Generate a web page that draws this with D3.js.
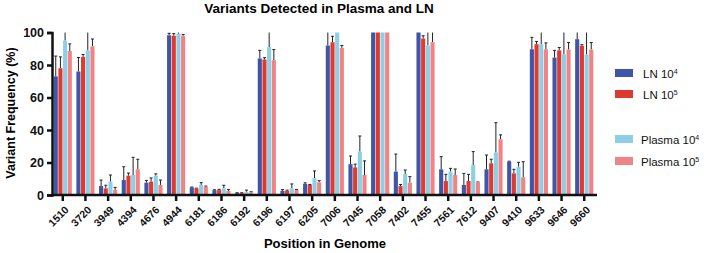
<!DOCTYPE html>
<html>
<head>
<meta charset="utf-8">
<script src="https://cdn.jsdelivr.net/npm/d3@7"></script>
<style>
  body { margin: 0; background: #fff; }
  svg text { font-family: "Liberation Sans", Arial, sans-serif; }
</style>
</head>
<body>
<div id="chart"></div>
<script>
// data
const positions = ["1510","3720","3949","4394","4676","4944","6181","6186","6192","6196","6197","6205",
  "7006","7045","7058","7402","7455","7561","7612","9407","9410","9633","9646","9660"];
const seriesKeys = ["LN4", "LN5", "PL4", "PL5"];

const ln4 = [73, 76, 5.5, 9.2, 7.6, 98.3, 4.7, 3, 1.2, 84, 2.6, 6.8, 92, 19, 100, 14.4, 100, 15.8, 6.2, 15.8, 20.5, 89.7, 84.6, 95.9];
const ln5 = [78, 85, 4.1, 11.9, 8.2, 98, 4.1, 3, 1.2, 83.4, 2.6, 6.2, 94, 17, 100, 5.5, 96.3, 8.6, 8.6, 19.5, 13.3, 92.8, 89, 91.8];
const pl4 = [95, 89, 8.2, 12.3, 11.9, 99.2, 6.2, 4.1, 2, 91, 4.1, 10.3, 100, 26.7, 100, 12.9, 92, 14.4, 18.5, 26.2, 17.4, 92.8, 86.6, 86.5];
const pl5 = [88.6, 91.5, 3, 15.8, 6.2, 98, 5.1, 2.5, 1.5, 83, 3, 7.8, 90.5, 12.3, 100, 7.6, 94, 12.3, 7.8, 34.3, 10.9, 89.7, 89.5, 89.5];

// upper end of each error bar
const ln4Err = [85.5, 84.6, 9.2, 17.4, 9, 99.5, 4.9, 3.2, 1.4, 89, 3.3, 7.5, 102, 24, 100.5, 25.2, 100.5, 23.6, 13.3, 24.6, 20.8, 97, 89, 102];
const ln5Err = [85, 86.5, 6, 13.5, 10.5, 99.3, 4.2, 3.5, 1.4, 84.5, 3, 6.5, 97.7, 19, 100.5, 6.5, 98, 12.7, 12.7, 22, 15.8, 94.5, 90.8, 92.5];
const pl4Err = [102, 102, 12.3, 23.2, 13, 100.2, 7.6, 6, 3, 102, 6.8, 14.8, 100.5, 36.3, 100.5, 15.4, 102, 16.4, 26.7, 44.5, 20.1, 102, 102, 102];
const pl5Err = [93, 96, 4.7, 22, 9.2, 98.8, 5.5, 3.3, 2, 89.5, 3.3, 8.8, 92, 21, 100.5, 11.3, 102, 16, 8, 37, 20.5, 93.6, 93.8, 93.8];

const yTicks = [0, 20, 40, 60, 80, 100];

const legendItems = [
  { key: "LN4", base: "LN 10", exp: "4" },
  { key: "LN5", base: "LN 10", exp: "5" },
  { key: "PL4", base: "Plasma 10", exp: "4" },
  { key: "PL5", base: "Plasma 10", exp: "5" }
];

const W = 710, H = 253;
const svg = d3.select("#chart").append("svg").attr("width", W).attr("height", H);

const color = d3.scaleOrdinal().domain(seriesKeys).range(["#3f55a8", "#e03a30", "#8dcfe6", "#f08383"]);

const x0 = d3.scaleBand().domain(positions).range([52, 595]).paddingInner(0.15).paddingOuter(0.05);
const x1 = d3.scaleBand().domain(seriesKeys).range([0, x0.bandwidth()]).padding(0.12);
const y = d3.scaleLinear().domain([0, 100]).range([195, 32.5]).clamp(true);

const rows = positions.map((p, i) => ({
  pos: p,
  vals: [
    { key: "LN4", v: ln4[i], e: ln4Err[i] },
    { key: "LN5", v: ln5[i], e: ln5Err[i] },
    { key: "PL4", v: pl4[i], e: pl4Err[i] },
    { key: "PL5", v: pl5[i], e: pl5Err[i] }
  ]
}));

// title
svg.append("text")
  .attr("x", 319).attr("y", 13)
  .attr("text-anchor", "middle")
  .style("font-size", "13.5px").style("font-weight", "bold")
  .text("Variants Detected in Plasma and LN");

// bars + error bars
const grp = svg.append("g").selectAll("g").data(rows).join("g")
  .attr("transform", d => `translate(${x0(d.pos)},0)`);

grp.selectAll("line.err").data(d => d.vals).join("line")
  .attr("class", "err")
  .attr("x1", d => x1(d.key) + x1.bandwidth() / 2)
  .attr("x2", d => x1(d.key) + x1.bandwidth() / 2)
  .attr("y1", d => y(d.v))
  .attr("y2", d => y(d.e))
  .attr("stroke", "#222").attr("stroke-width", 1);

grp.selectAll("line.cap").data(d => d.vals.filter(v => v.e <= 100)).join("line")
  .attr("class", "cap")
  .attr("x1", d => x1(d.key) + x1.bandwidth() / 2 - 1.5)
  .attr("x2", d => x1(d.key) + x1.bandwidth() / 2 + 1.5)
  .attr("y1", d => y(d.e)).attr("y2", d => y(d.e))
  .attr("stroke", "#222").attr("stroke-width", 1);

grp.selectAll("rect").data(d => d.vals).join("rect")
  .attr("x", d => x1(d.key))
  .attr("width", x1.bandwidth())
  .attr("y", d => y(d.v))
  .attr("height", d => y(0) - y(d.v))
  .attr("fill", d => color(d.key));

// y axis
const gy = svg.append("g").attr("transform", "translate(52,0)")
  .call(d3.axisLeft(y).tickValues(yTicks).tickSize(5).tickPadding(3));
gy.select(".domain").attr("stroke", "#111").attr("stroke-width", 2.5);
gy.selectAll(".tick line").attr("stroke", "#111").attr("stroke-width", 2.5);
gy.selectAll(".tick text").style("font-size", "12.5px").style("font-weight", "bold").attr("fill", "#111");

// x axis
const gx = svg.append("g").attr("transform", "translate(0,195)")
  .call(d3.axisBottom(x0).tickSize(6).tickSizeOuter(0));
gx.select(".domain").attr("d", "M52,0H597").attr("stroke", "#111").attr("stroke-width", 2.5);
gx.selectAll(".tick line").attr("stroke", "#111").attr("stroke-width", 2.5);
gx.selectAll(".tick text")
  .style("font-size", "10.5px").style("font-weight", "bold").attr("fill", "#111")
  .attr("text-anchor", "end")
  .attr("x", 0).attr("y", 0).attr("dy", "0.35em")
  .attr("transform", "translate(4,13) rotate(-45)");

// axis titles
svg.append("text")
  .attr("transform", "translate(15,113) rotate(-90)")
  .attr("text-anchor", "middle")
  .style("font-size", "12.5px").style("font-weight", "bold")
  .text("Variant Frequency (%)");

svg.append("text")
  .attr("x", 325).attr("y", 248)
  .attr("text-anchor", "middle")
  .style("font-size", "13px").style("font-weight", "bold")
  .text("Position in Genome");

// legend
const legY = [73, 94, 139, 161];
const leg = svg.append("g").selectAll("g").data(legendItems).join("g")
  .attr("transform", (d, i) => `translate(615,${legY[i]})`);
leg.append("rect")
  .attr("x", 0).attr("y", -4).attr("width", 18).attr("height", 8)
  .attr("fill", d => color(d.key));
leg.append("text")
  .attr("x", (d, i) => i < 2 ? 28 : 26).attr("y", 4.5)
  .style("font-size", "11.5px").attr("fill", "#111")
  .each(function (d) {
    const t = d3.select(this);
    t.append("tspan").text(d.base);
    t.append("tspan").attr("dy", "-4").style("font-size", "7px").text(d.exp);
  });
</script>
</body>
</html>
